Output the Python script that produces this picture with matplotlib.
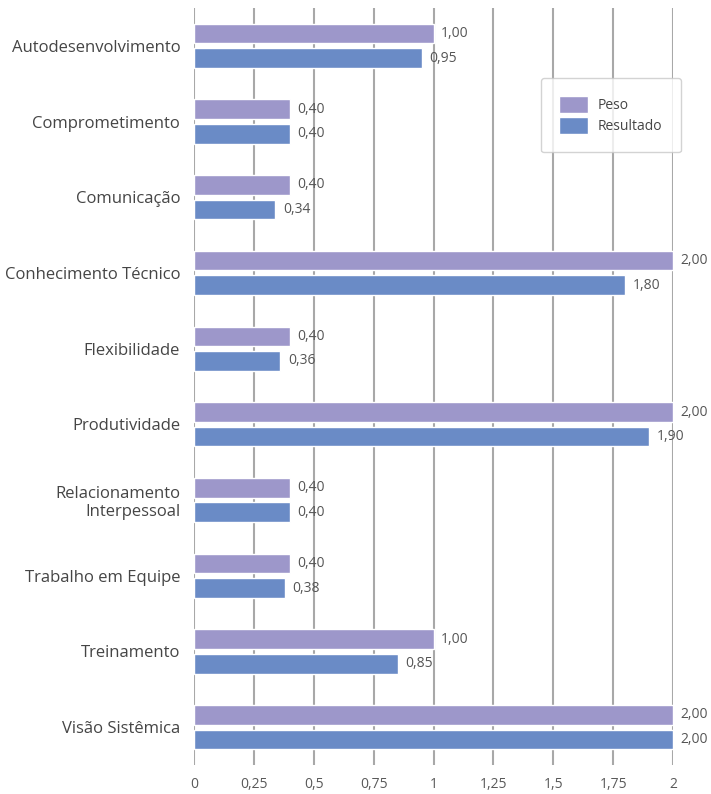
import matplotlib.pyplot as plt
import numpy as np
from matplotlib.ticker import FuncFormatter

plt.rcParams['font.family'] = ['Open Sans', 'DejaVu Sans']

categorias = ["Autodesenvolvimento", "Comprometimento", "Comunicação",
              "Conhecimento Técnico", "Flexibilidade", "Produtividade",
              "Relacionamento\nInterpessoal", "Trabalho em Equipe",
              "Treinamento", "Visão Sistêmica"]
peso = [1.00, 0.40, 0.40, 2.00, 0.40, 2.00, 0.40, 0.40, 1.00, 2.00]
resultado = [0.95, 0.40, 0.34, 1.80, 0.36, 1.90, 0.40, 0.38, 0.85, 2.00]
x_ticks = [0, 0.25, 0.5, 0.75, 1, 1.25, 1.5, 1.75, 2]

cor_peso = "#9d97ca"
cor_resultado = "#6a8bc6"
cor_texto = "#454545"


def virgula(v, _=None):
    return "{:g}".format(v).replace(".", ",")


fig = plt.figure(figsize=(7.11, 7.94), dpi=100)
ax = fig.add_axes([0.2729, 0.0365, 0.9466 - 0.2729, 0.99 - 0.0365])

y = np.arange(len(categorias))
h = 0.26
b1 = ax.barh(y - 0.162, peso, height=h, color=cor_peso, edgecolor="white", lw=1, zorder=3)
b2 = ax.barh(y + 0.162, resultado, height=h, color=cor_resultado, edgecolor="white", lw=1, zorder=3)

for barras, valores in [(b1, peso), (b2, resultado)]:
    for bar, v in zip(barras, valores):
        ax.annotate(f"{v:.2f}".replace(".", ","), (v, bar.get_y() + bar.get_height() / 2),
                    xytext=(5.5, 0), textcoords="offset points", va="center", ha="left",
                    fontsize=10, color="#555555")

ax.set_xlim(0, 2)
ax.set_ylim(len(categorias) - 0.5, -0.5)
ax.set_xticks(x_ticks)
ax.xaxis.set_major_formatter(FuncFormatter(virgula))
ax.set_yticks(y)
ax.set_yticklabels(categorias, fontsize=12, color=cor_texto, ha="right", multialignment="right")
ax.tick_params(axis="y", length=0, pad=10)
ax.tick_params(axis="x", length=0, pad=8.5, labelsize=10, labelcolor="#595959")
ax.grid(axis="x", color="#a8a8a8", lw=1.5, zorder=0)
for s in ax.spines.values():
    s.set_visible(False)

leg = fig.legend([b1, b2], ["Peso", "Resultado"], loc="upper left",
                 bbox_to_anchor=(541 / 711, 1 - 78 / 794), fontsize=10,
                 frameon=True, fancybox=True, edgecolor="#c8c8c8",
                 handlelength=2.1, handleheight=1.5, borderpad=1.3,
                 labelspacing=0.3, handletextpad=0.7, borderaxespad=0)
for t in leg.get_texts():
    t.set_color(cor_texto)
leg.get_frame().set_linewidth(1.0)

fig.savefig("out.png", dpi=100)
